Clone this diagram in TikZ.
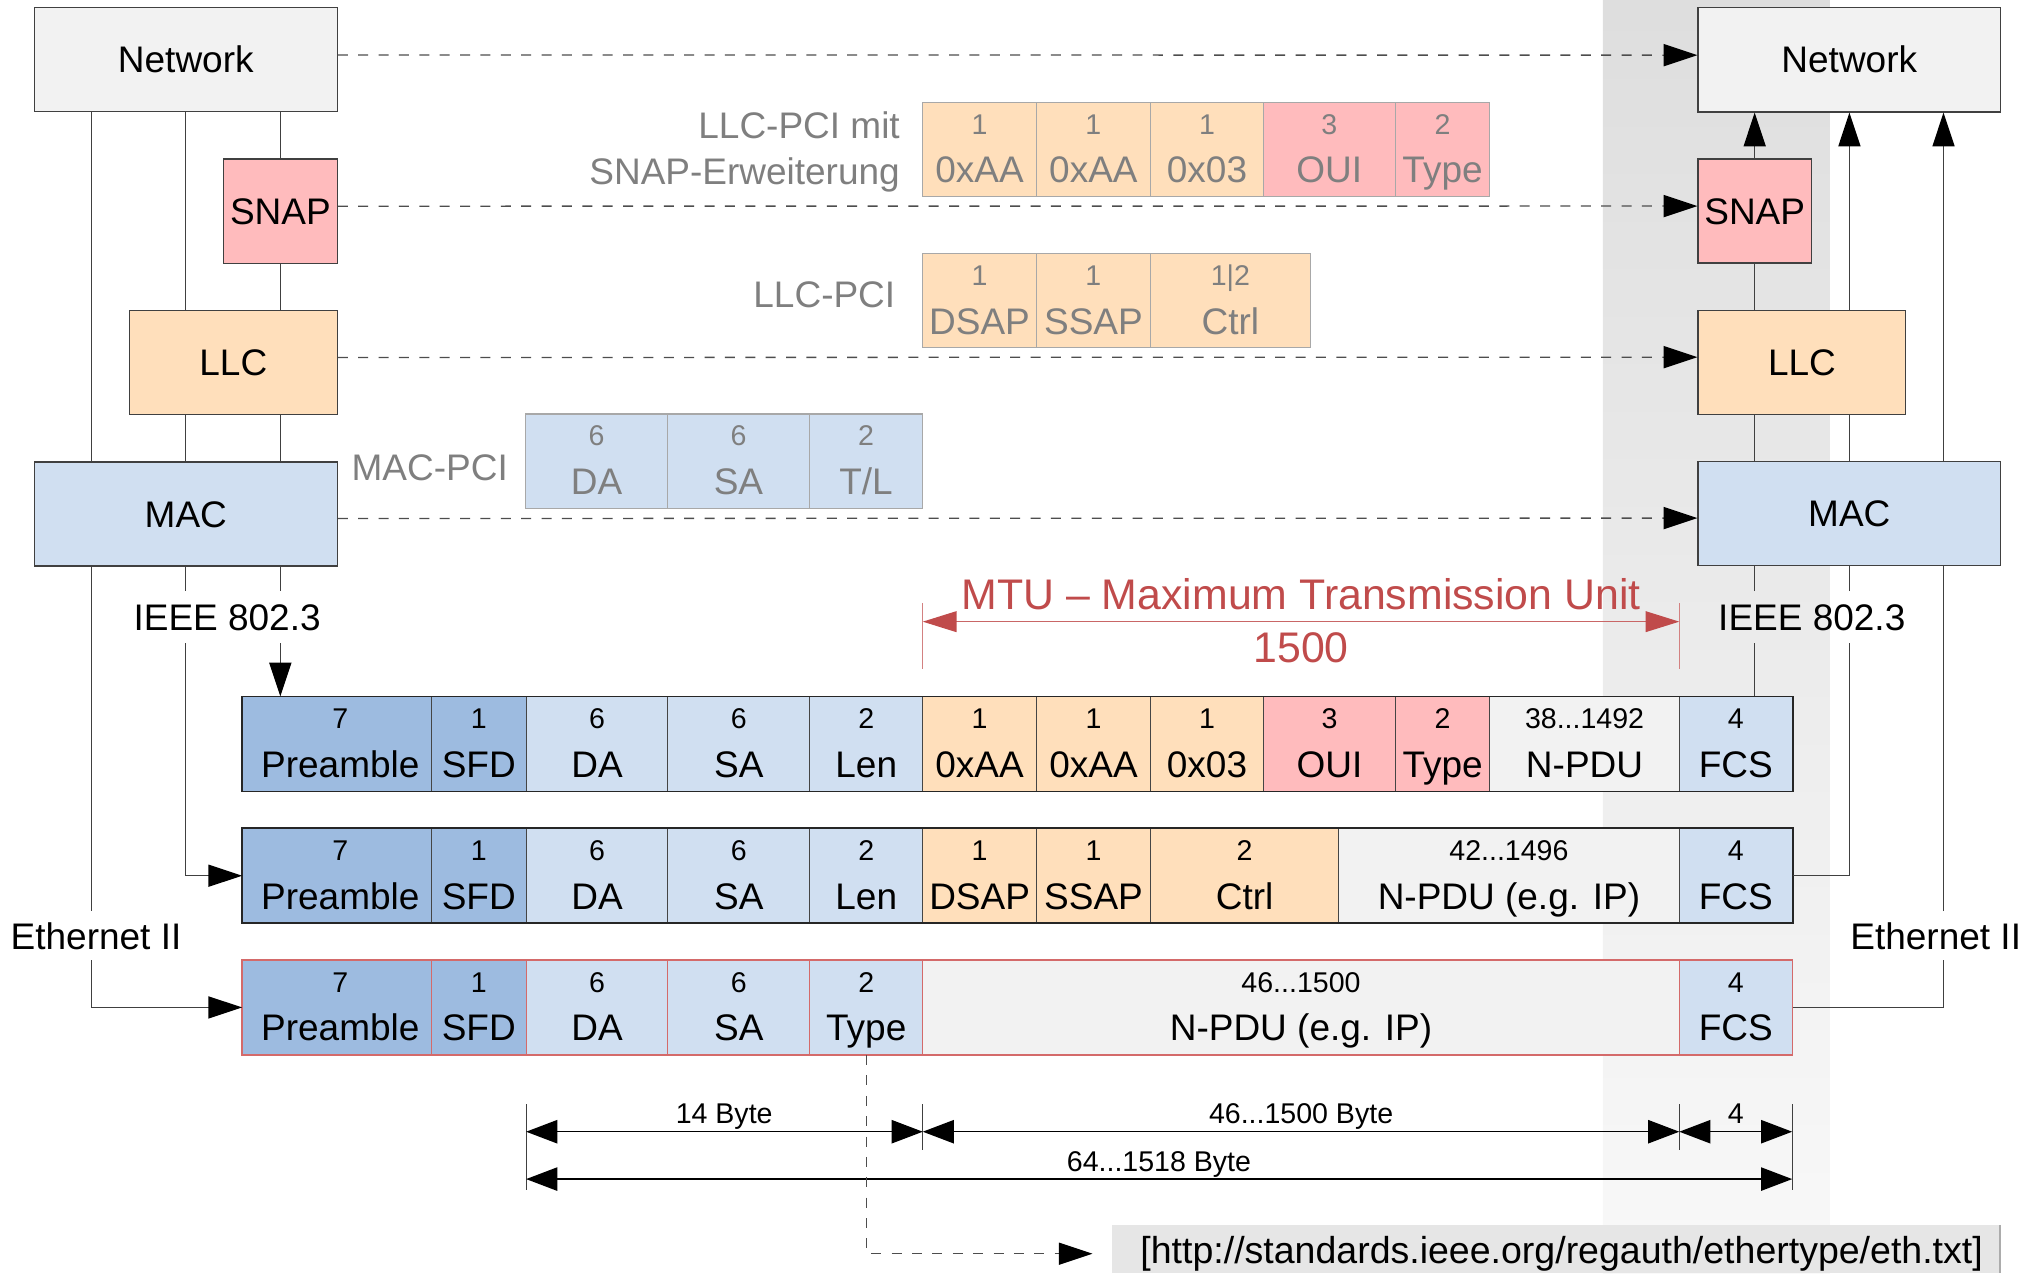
\documentclass[tikz,border=0pt]{standalone}
\usepackage{fontspec}
\setmainfont{Liberation Sans}
\usetikzlibrary{arrows.meta}

\definecolor{netgray}{HTML}{F2F2F2}
\definecolor{snappink}{HTML}{FFBBBD}
\definecolor{llcorange}{HTML}{FFDFBB}
\definecolor{macblue}{HTML}{D0DFF1}
\definecolor{preblue}{HTML}{9DBBE0}
\definecolor{linegray}{HTML}{404040}
\definecolor{dashgray}{HTML}{4D4D4D}
\definecolor{cellline}{HTML}{454545}
\definecolor{rowline}{HTML}{262626}
\definecolor{redline}{HTML}{D46A6A}
\definecolor{pciline}{HTML}{A8A8A8}
\definecolor{pcitext}{HTML}{7F7F7F}
\definecolor{mtured}{HTML}{C04B4B}
\definecolor{urlgray}{HTML}{E6E6E6}

\newcommand{\fLab}{\fontsize{28.5}{34}\selectfont}
\newcommand{\fUrl}{\fontsize{28.9}{34}\selectfont}
\newcommand{\fNum}{\fontsize{22}{26}\selectfont}
\newcommand{\fMtu}{\fontsize{33}{38}\selectfont}

% one field of a frame: name, left x, right x, top y, box style, size, field name, text style
\newcommand{\pdcell}[8]{%
  \node[cellbox,#5,minimum width={#3-#2}] (#1) at ({(#2+#3)/2},{#4+36.25}) {};
  \node[numtxt,#8] (#1n) at ({(#2+#3)/2},{#4+24.5}) {#6};
  \node[labtxt,#8] (#1l) at ({(#2+#3)/2},{#4+62}) {#7};}

\begin{document}
\begin{tikzpicture}[x=1pt,y=-1pt,
  conn/.style={draw=linegray,line width=1pt},
  arrowend/.style={-{Triangle[length=26pt,width=17pt,color=black]}},
  dimarrows/.style={{Triangle[length=24pt,width=18pt]}-{Triangle[length=24pt,width=18pt]}},
  dconn/.style={draw=dashgray,line width=1pt,dash pattern=on 7.7pt off 8pt},
  stackbox/.style={draw=linegray,line width=1pt,inner sep=0pt,text height=20.5pt,text depth=0pt,font=\fLab},
  cellbox/.style={draw=cellline,line width=0.8pt,inner sep=0pt,minimum height=72.5pt},
  numtxt/.style={anchor=base,inner sep=0pt,font=\fNum},
  labtxt/.style={anchor=base,inner sep=0pt,font=\fLab},
  pcibox/.style={draw=pciline},
  pcitxt/.style={text=pcitext},
  redbox/.style={draw=redline},
  gaplabel/.style={inner xsep=0pt,text height=20.5pt,text depth=0pt,font=\fLab},
  grayword/.style={anchor=base east,inner sep=0pt,font=\fLab,text=pcitext},
  dimtxt/.style={anchor=base,inner sep=0pt,font=\fNum},
]
\useasboundingbox (0,0) rectangle (1568,981);

% receiving side background band
\shade[top color=gray!26,bottom color=gray!5] (1235,0) rectangle (1410,981);

% vertical line positions
\coordinate (xl1) at (70.5,0);
\coordinate (xl2) at (143,0);
\coordinate (xl3) at (216,0);
\coordinate (xr1) at (1352,0);
\coordinate (xr2) at (1425,0);
\coordinate (xr3) at (1497.5,0);

% sending protocol stack
\node[stackbox,fill=netgray,minimum width=233.3pt,minimum height=80.2pt] (netL) at (143.15,45.9) {Network};
\node[stackbox,fill=snappink,minimum width=87.5pt,minimum height=80.3pt] (snapL) at (216.05,162.65) {SNAP};
\node[stackbox,fill=llcorange,minimum width=160pt,minimum height=80pt] (llcL) at (179.8,279.45) {LLC};
\node[stackbox,fill=macblue,minimum width=233.3pt,minimum height=80pt] (macL) at (143.15,396) {MAC};

% receiving protocol stack
\node[stackbox,fill=netgray,minimum width=233pt,minimum height=80.5pt] (netR) at (1424.9,46) {Network};
\node[stackbox,fill=snappink,minimum width=87.2pt,minimum height=80.2pt] (snapR) at (1352,162.6) {SNAP};
\node[stackbox,fill=llcorange,minimum width=160pt,minimum height=80pt] (llcR) at (1388.4,279.2) {LLC};
\node[stackbox,fill=macblue,minimum width=233pt,minimum height=80.3pt] (macR) at (1424.9,395.7) {MAC};

% peer-to-peer relations
\draw[dconn,arrowend] ([yshift=3.5pt]netL.east) -- ([yshift=3.5pt]netR.west);
\draw[dconn,arrowend] ([yshift=3.8pt]snapL.east) -- ([yshift=3.8pt]snapR.west);
\draw[dconn,arrowend] ([yshift=4pt]llcL.east) -- ([yshift=4pt]llcR.west);
\draw[dconn,arrowend] ([yshift=-3.5pt]macL.east) -- ([yshift=-3.5pt]macR.west);

% protocol control information
\node[grayword] (pciSnapA) at (693.5,106.6) {LLC-PCI mit};
\node[grayword] (pciSnapB) at (693.5,141.8) {SNAP-Erweiterung};
\pdcell{ps1}{711}{798.5}{79}{pcibox,fill=llcorange}{1}{0xAA}{pcitxt}
\pdcell{ps2}{798.5}{886.5}{79}{pcibox,fill=llcorange}{1}{0xAA}{pcitxt}
\pdcell{ps3}{886.5}{973.5}{79}{pcibox,fill=llcorange}{1}{0x03}{pcitxt}
\pdcell{ps4}{973.5}{1075}{79}{pcibox,fill=snappink}{3}{OUI}{pcitxt}
\pdcell{ps5}{1075}{1148}{79}{pcibox,fill=snappink}{2}{Type}{pcitxt}

\node[grayword] (pciLlc) at (690,236.8) {LLC-PCI};
\pdcell{pl1}{711}{798.5}{195.5}{pcibox,fill=llcorange}{1}{DSAP}{pcitxt}
\pdcell{pl2}{798.5}{886.5}{195.5}{pcibox,fill=llcorange}{1}{SSAP}{pcitxt}
\pdcell{pl3}{886.5}{1009.5}{195.5}{pcibox,fill=llcorange}{1|2}{Ctrl}{pcitxt}

\node[grayword] (pciMac) at (391.5,370) {MAC-PCI};
\pdcell{pm1}{405}{514.5}{319}{pcibox,fill=macblue}{6}{DA}{pcitxt}
\pdcell{pm2}{514.5}{623.5}{319}{pcibox,fill=macblue}{6}{SA}{pcitxt}
\pdcell{pm3}{623.5}{711}{319}{pcibox,fill=macblue}{2}{T/L}{pcitxt}

% frame with SNAP extension
\pdcell{r1pre}{187}{332.4}{537}{fill=preblue}{7}{Preamble}{xshift=2.5pt}
\pdcell{r1sfd}{332.4}{405.4}{537}{fill=preblue}{1}{SFD}{}
\pdcell{r1da}{405.4}{514.6}{537}{fill=macblue}{6}{DA}{}
\pdcell{r1sa}{514.6}{623.9}{537}{fill=macblue}{6}{SA}{}
\pdcell{r1len}{623.9}{711}{537}{fill=macblue}{2}{Len}{}
\pdcell{r1aa}{711}{798.6}{537}{fill=llcorange}{1}{0xAA}{}
\pdcell{r1ab}{798.6}{886.5}{537}{fill=llcorange}{1}{0xAA}{}
\pdcell{r1ctl}{886.5}{973.5}{537}{fill=llcorange}{1}{0x03}{}
\pdcell{r1oui}{973.5}{1075.2}{537}{fill=snappink}{3}{OUI}{}
\pdcell{r1typ}{1075.2}{1147.9}{537}{fill=snappink}{2}{Type}{}
\pdcell{r1pdu}{1147.9}{1293.9}{537}{fill=netgray}{38...1492}{N-PDU}{}
\pdcell{r1fcs}{1293.9}{1380.9}{537}{fill=macblue}{4}{FCS}{}
\draw[rowline,line width=1.3pt] (r1pre.north west) rectangle (r1fcs.south east);

% IEEE 802.3 frame with LLC
\pdcell{r2pre}{187}{332.4}{638.5}{fill=preblue}{7}{Preamble}{xshift=2.5pt}
\pdcell{r2sfd}{332.4}{405.4}{638.5}{fill=preblue}{1}{SFD}{}
\pdcell{r2da}{405.4}{514.6}{638.5}{fill=macblue}{6}{DA}{}
\pdcell{r2sa}{514.6}{623.9}{638.5}{fill=macblue}{6}{SA}{}
\pdcell{r2len}{623.9}{711}{638.5}{fill=macblue}{2}{Len}{}
\pdcell{r2dsap}{711}{798.6}{638.5}{fill=llcorange}{1}{DSAP}{}
\pdcell{r2ssap}{798.6}{886.5}{638.5}{fill=llcorange}{1}{SSAP}{}
\pdcell{r2ctl}{886.5}{1031.4}{638.5}{fill=llcorange}{2}{Ctrl}{}
\pdcell{r2pdu}{1031.4}{1293.9}{638.5}{fill=netgray}{42...1496}{N-PDU (e.g. IP)}{}
\pdcell{r2fcs}{1293.9}{1380.9}{638.5}{fill=macblue}{4}{FCS}{}
\draw[rowline,line width=1.3pt] (r2pre.north west) rectangle (r2fcs.south east);

% Ethernet II frame
\pdcell{r3pre}{187}{332.4}{740}{redbox,fill=preblue}{7}{Preamble}{xshift=2.5pt}
\pdcell{r3sfd}{332.4}{405.4}{740}{redbox,fill=preblue}{1}{SFD}{}
\pdcell{r3da}{405.4}{514.6}{740}{redbox,fill=macblue}{6}{DA}{}
\pdcell{r3sa}{514.6}{623.9}{740}{redbox,fill=macblue}{6}{SA}{}
\pdcell{r3typ}{623.9}{711}{740}{redbox,fill=macblue}{2}{Type}{}
\pdcell{r3pdu}{711}{1293.9}{740}{redbox,fill=netgray}{46...1500}{N-PDU (e.g. IP)}{}
\pdcell{r3fcs}{1293.9}{1380.9}{740}{redbox,fill=macblue}{4}{FCS}{}
\draw[redline,line width=1.2pt] (r3pre.north west) rectangle (r3fcs.south east);

% labels interrupting the vertical lines
\node[gaplabel,inner ysep=9.5pt] (ieeeL) at (175,475.5) {IEEE 802.3};
\node[gaplabel,inner ysep=9.5pt] (ieeeR) at (1396,475.5) {IEEE 802.3};
\node[gaplabel,inner ysep=8.5pt] (ethL) at (74,721) {Ethernet II};
\node[gaplabel,inner ysep=8.5pt] (ethR) at (1491.5,721) {Ethernet II};

% sending side: stack down to the frames
\draw[conn] (netL.south -| xl1) -- (macL.north -| xl1);
\draw[conn] (macL.south -| xl1) -- (ethL.north -| xl1);
\draw[conn,arrowend] (ethL.south -| xl1) |- (r3pre.west);
\draw[conn] (netL.south -| xl2) -- (llcL.north -| xl2);
\draw[conn] (llcL.south -| xl2) -- (macL.north -| xl2);
\draw[conn] (macL.south -| xl2) -- (ieeeL.north -| xl2);
\draw[conn,arrowend] (ieeeL.south -| xl2) |- (r2pre.west);
\draw[conn] (netL.south -| xl3) -- (snapL.north -| xl3);
\draw[conn] (snapL.south -| xl3) -- (llcL.north -| xl3);
\draw[conn] (llcL.south -| xl3) -- (macL.north -| xl3);
\draw[conn] (macL.south -| xl3) -- (ieeeL.north -| xl3);
\draw[conn,arrowend] (ieeeL.south -| xl3) -- (r1pre.north -| xl3);

% receiving side: frames up to the stack
\draw[conn] (r1fcs.north -| xr1) -- (ieeeR.south -| xr1);
\draw[conn] (ieeeR.north -| xr1) -- (macR.south -| xr1);
\draw[conn] (macR.north -| xr1) -- (llcR.south -| xr1);
\draw[conn] (llcR.north -| xr1) -- (snapR.south -| xr1);
\draw[conn,arrowend] (snapR.north -| xr1) -- (netR.south -| xr1);
\draw[conn] (r2fcs.east) -| (ieeeR.south -| xr2);
\draw[conn] (ieeeR.north -| xr2) -- (macR.south -| xr2);
\draw[conn] (macR.north -| xr2) -- (llcR.south -| xr2);
\draw[conn,arrowend] (llcR.north -| xr2) -- (netR.south -| xr2);
\draw[conn] (r3fcs.east) -| (ethR.south -| xr3);
\draw[conn] (ethR.north -| xr3) -- (macR.south -| xr3);
\draw[conn,arrowend] (macR.north -| xr3) -- (netR.south -| xr3);

% MTU
\coordinate (mtuA) at (711,479);
\coordinate (mtuB) at (1293.9,479);
\draw[mtured!70,line width=0.8pt] ([yshift=14pt]mtuA) -- ([yshift=-36.5pt]mtuA);
\draw[mtured!70,line width=0.8pt] ([yshift=14pt]mtuB) -- ([yshift=-36.5pt]mtuB);
\draw[mtured!85,line width=1pt,{Triangle[length=26pt,width=16pt,color=mtured]}-{Triangle[length=26pt,width=16pt,color=mtured]}] (mtuA) -- (mtuB);
\node[anchor=base,inner sep=0pt,font=\fMtu,text=mtured] (mtuName) at (1002.5,469.5) {MTU – Maximum Transmission Unit};
\node[anchor=base,inner sep=0pt,font=\fMtu,text=mtured] (mtuSize) at (1002.5,510.5) {1500};

% length dimensions
\coordinate (d1) at (405.4,872);
\coordinate (d2) at (711,872);
\coordinate (d3) at (1293.9,872);
\coordinate (d4) at (1380.9,872);
\coordinate (e1) at (405.4,908.5);
\coordinate (e4) at (1380.9,908.5);
\draw[linegray,line width=0.7pt] ([yshift=21pt]d1) -- ([yshift=-45pt]d1);
\draw[linegray,line width=0.7pt] ([yshift=21pt]d2) -- ([yshift=-14pt]d2);
\draw[linegray,line width=0.7pt] ([yshift=21pt]d3) -- ([yshift=-14pt]d3);
\draw[linegray,line width=0.7pt] ([yshift=21pt]d4) -- ([yshift=-45pt]d4);
\draw[black,line width=1pt,dimarrows] (d1) -- (d2);
\draw[black,line width=1pt,dimarrows] (d2) -- (d3);
\draw[black,line width=1pt,dimarrows] (d3) -- (d4);
\draw[black,line width=1pt,dimarrows] (e1) -- (e4);
\node[dimtxt] (dimHead) at (558,866) {14 Byte};
\node[dimtxt] (dimData) at (1002.5,866) {46...1500 Byte};
\node[dimtxt] (dimFcs) at (1337.5,866) {4};
\node[dimtxt] (dimAll) at (893,902.8) {64...1518 Byte};

% EtherType reference
\node[fill=urlgray,inner sep=0pt,minimum width=684pt,minimum height=37pt] (url) at (1199,962.5) {};
\draw[gray!65,line width=1.6pt] (url.north east) -- (url.south east);
\node[anchor=base west,inner sep=0pt,font=\fUrl] (urltxt) at (878.5,973.5) {[http://standards.ieee.org/regauth/ethertype/eth.txt]};
\draw[dconn,arrowend] (r3typ.south) |- ([xshift=-15pt,yshift=-3.5pt]url.west);
\end{tikzpicture}
\end{document}
